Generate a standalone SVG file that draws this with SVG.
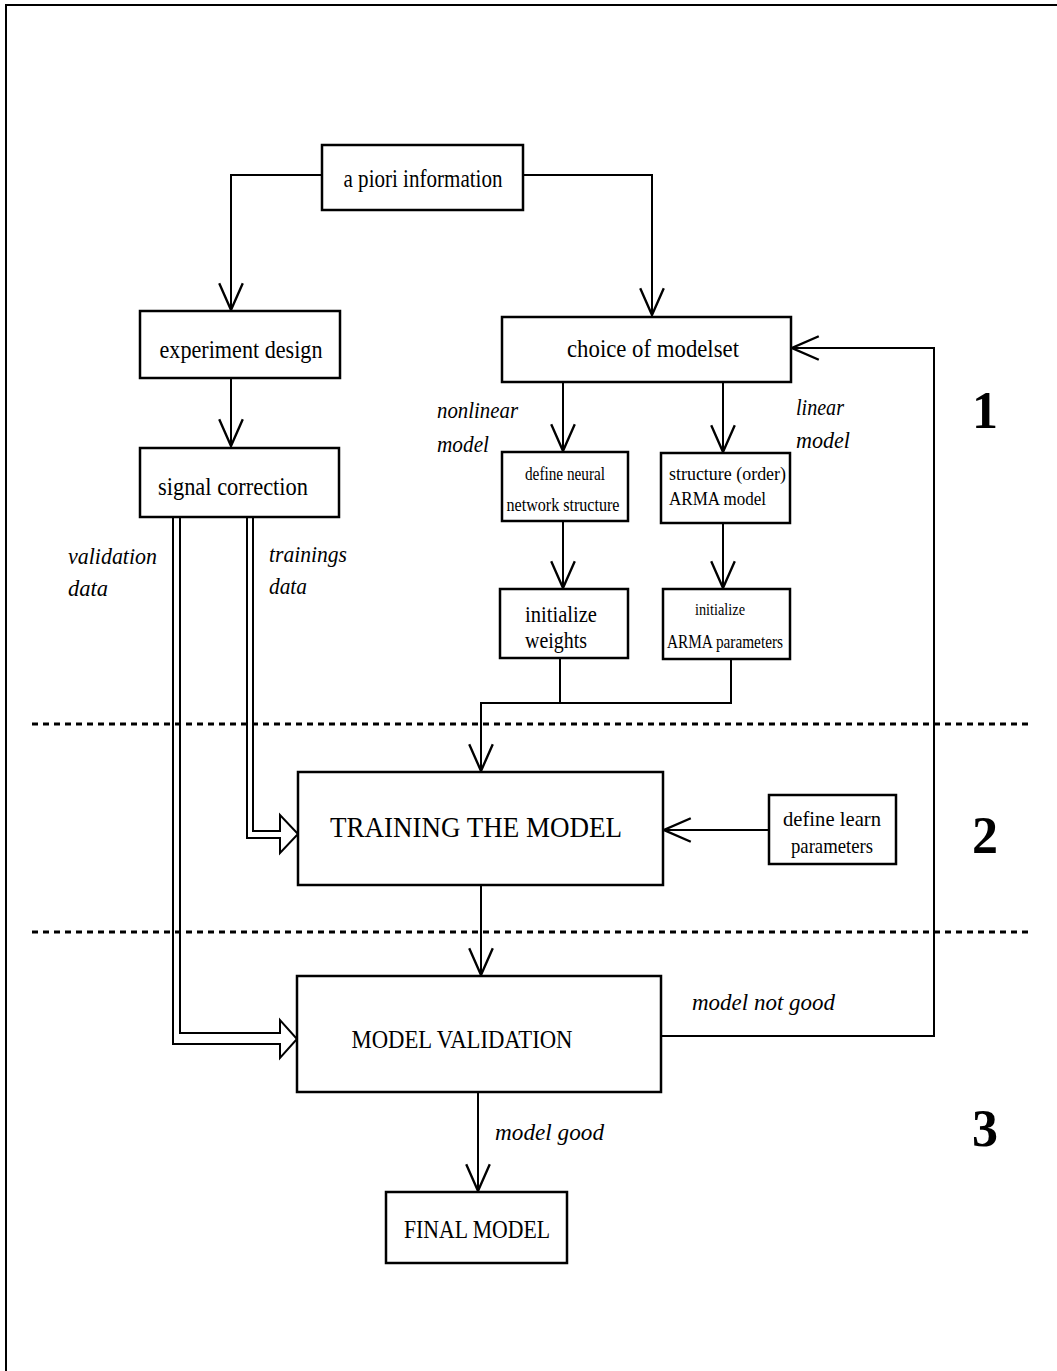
<svg xmlns="http://www.w3.org/2000/svg" width="1057" height="1371" viewBox="0 0 1057 1371">
<style>
.box{fill:#fff;stroke:#000;stroke-width:2.5}
.ln{fill:none;stroke:#000;stroke-width:2}
.dbl{fill:#fff;stroke:#000;stroke-width:2;stroke-linejoin:miter}
.dot{fill:none;stroke:#000;stroke-width:3;stroke-dasharray:6,5}
text{font-family:"Liberation Serif","Times New Roman",serif;fill:#000}
.t{font-size:26px;text-anchor:middle}
.s{font-size:19px}
.i{font-size:23px;font-style:italic}
.n{font-size:52px;font-weight:bold;text-anchor:middle}
</style>
<defs>
<marker id="v" markerUnits="userSpaceOnUse" markerWidth="30" markerHeight="30" viewBox="-26 -13 28 26" refX="0" refY="0" orient="auto">
<path d="M-25,-11 L0,0 L-25,11" fill="none" stroke="#000" stroke-width="2.2"/>
</marker>
</defs>
<rect width="1057" height="1371" fill="#fff"/>
<path d="M6,1371 V5 H1057" class="ln" stroke-width="3"/>
<g id="connectors">
<path d="M322,175 H231 V310" class="ln" marker-end="url(#v)"/>
<path d="M523,175 H652 V315" class="ln" marker-end="url(#v)"/>
<path d="M231,378 V446" class="ln" marker-end="url(#v)"/>
<path d="M563,382 V451" class="ln" marker-end="url(#v)"/>
<path d="M723,382 V452" class="ln" marker-end="url(#v)"/>
<path d="M563,521 V588" class="ln" marker-end="url(#v)"/>
<path d="M723,523 V588" class="ln" marker-end="url(#v)"/>
<path d="M560,658 V703 H731 V659" class="ln"/>
<path d="M560,703 H481 V771" class="ln" marker-end="url(#v)"/>
<path d="M769,830 H664" class="ln" marker-end="url(#v)"/>
<path d="M481,885 V975" class="ln" marker-end="url(#v)"/>
<path d="M478,1092 V1191" class="ln" marker-end="url(#v)"/>
<path d="M661,1036 H934 V348 H792" class="ln" marker-end="url(#v)"/>
<path d="M247,517 V838 H280 V853 L298,834 L280,815 V831 H253 V517" class="dbl"/>
<path d="M173,517 V1044 H280 V1058 L297,1039 L280,1020 V1033 H180 V517" class="dbl"/>
</g>
<g id="separators">
<line x1="32" y1="724" x2="1030" y2="724" class="dot"/>
<line x1="32" y1="932" x2="1030" y2="932" class="dot"/>
</g>
<g id="apriori">
<rect x="322" y="145" width="201" height="65" class="box"/>
<text x="423" y="187" class="t" textLength="159" lengthAdjust="spacingAndGlyphs">a piori information</text>
</g>
<g id="experiment">
<rect x="140" y="311" width="200" height="67" class="box"/>
<text x="241" y="358" class="t" textLength="163" lengthAdjust="spacingAndGlyphs">experiment  design</text>
</g>
<g id="signal">
<rect x="140" y="448" width="199" height="69" class="box"/>
<text x="233" y="495" class="t" textLength="150" lengthAdjust="spacingAndGlyphs">signal correction</text>
</g>
<g id="choice">
<rect x="502" y="317" width="289" height="65" class="box"/>
<text x="653" y="357" class="t" textLength="172" lengthAdjust="spacingAndGlyphs">choice  of modelset</text>
</g>
<g id="neural">
<rect x="502" y="452" width="126" height="69" class="box"/>
<text x="565" y="480" class="s" text-anchor="middle" textLength="80" lengthAdjust="spacingAndGlyphs">define neural</text>
<text x="563" y="511" class="s" text-anchor="middle" textLength="113" lengthAdjust="spacingAndGlyphs">network structure</text>
</g>
<g id="arma">
<rect x="661" y="453" width="129" height="70" class="box"/>
<text x="669" y="480" class="s" textLength="117" lengthAdjust="spacingAndGlyphs">structure (order)</text>
<text x="669" y="505" class="s" textLength="97" lengthAdjust="spacingAndGlyphs">ARMA model</text>
</g>
<g id="weights">
<rect x="500" y="589" width="128" height="69" class="box"/>
<text x="525" y="622" style="font-size:23px" textLength="72" lengthAdjust="spacingAndGlyphs">initialize</text>
<text x="525" y="648" style="font-size:23px" textLength="62" lengthAdjust="spacingAndGlyphs">weights</text>
</g>
<g id="armaparams">
<rect x="663" y="589" width="127" height="70" class="box"/>
<text x="695" y="615" style="font-size:17px" textLength="50" lengthAdjust="spacingAndGlyphs">initialize</text>
<text x="667" y="648" class="s" textLength="116" lengthAdjust="spacingAndGlyphs">ARMA parameters</text>
</g>
<g id="training">
<rect x="298" y="772" width="365" height="113" class="box"/>
<text x="476" y="837" class="t" style="font-size:30px" textLength="292" lengthAdjust="spacingAndGlyphs">TRAINING THE MODEL</text>
</g>
<g id="learn">
<rect x="769" y="795" width="127" height="69" class="box"/>
<text x="832" y="826" class="t" style="font-size:22px" textLength="98" lengthAdjust="spacingAndGlyphs">define  learn</text>
<text x="832" y="853" class="t" style="font-size:22px" textLength="82" lengthAdjust="spacingAndGlyphs">parameters</text>
</g>
<g id="validation">
<rect x="297" y="976" width="364" height="116" class="box"/>
<text x="462" y="1048" class="t" style="font-size:26px" textLength="221" lengthAdjust="spacingAndGlyphs">MODEL VALIDATION</text>
</g>
<g id="final">
<rect x="386" y="1192" width="181" height="71" class="box"/>
<text x="477" y="1238" class="t" style="font-size:26px" textLength="146" lengthAdjust="spacingAndGlyphs">FINAL MODEL</text>
</g>
<g id="labels">
<text x="68" y="564" class="i" textLength="89" lengthAdjust="spacingAndGlyphs">validation</text>
<text x="68" y="596" class="i" textLength="40" lengthAdjust="spacingAndGlyphs">data</text>
<text x="269" y="562" class="i" textLength="78" lengthAdjust="spacingAndGlyphs">trainings</text>
<text x="269" y="594" class="i" textLength="38" lengthAdjust="spacingAndGlyphs">data</text>
<text x="437" y="418" class="i" textLength="81" lengthAdjust="spacingAndGlyphs">nonlinear</text>
<text x="437" y="452" class="i" textLength="52" lengthAdjust="spacingAndGlyphs">model</text>
<text x="796" y="415" class="i" textLength="48" lengthAdjust="spacingAndGlyphs">linear</text>
<text x="796" y="448" class="i" textLength="54" lengthAdjust="spacingAndGlyphs">model</text>
<text x="692" y="1010" class="i" textLength="143" lengthAdjust="spacingAndGlyphs">model not good</text>
<text x="495" y="1140" class="i" textLength="109" lengthAdjust="spacingAndGlyphs">model good</text>
<text x="985" y="428" class="n">1</text>
<text x="985" y="853" class="n">2</text>
<text x="985" y="1146" class="n">3</text>
</g>
</svg>
